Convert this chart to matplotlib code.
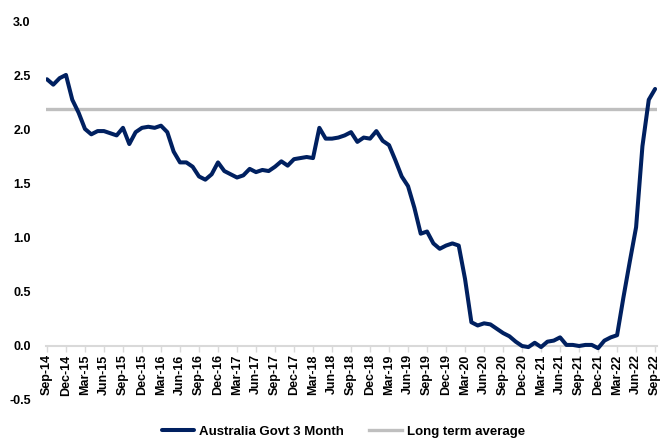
import matplotlib
matplotlib.use("Agg")
import matplotlib.pyplot as plt
import numpy as np
import pandas as pd

# monthly observations, Sep-14 .. Sep-22
months = pd.date_range("2014-09-01", "2022-09-01", freq="MS")
govt_3m = [
    2.47, 2.42, 2.48, 2.51, 2.28, 2.16, 2.01, 1.96, 1.99, 1.99,   # Sep14-Jun15
    1.97, 1.95, 2.02, 1.87, 1.98, 2.02, 2.03, 2.02, 2.04, 1.98,   # Jul15-Apr16
    1.80, 1.70, 1.70, 1.66, 1.57, 1.54, 1.59, 1.70, 1.62, 1.59,   # May16-Feb17
    1.56, 1.58, 1.64, 1.61, 1.63, 1.62, 1.66, 1.71, 1.67, 1.73,   # Mar17-Dec17
    1.74, 1.75, 1.74, 2.02, 1.92, 1.92, 1.93, 1.95, 1.98, 1.89,   # Jan18-Oct18
    1.93, 1.92, 1.99, 1.90, 1.86, 1.72, 1.57, 1.48, 1.28, 1.04,   # Nov18-Aug19
    1.06, 0.95, 0.90, 0.93, 0.95, 0.93, 0.62, 0.22, 0.19, 0.21,   # Sep19-Jun20
    0.20, 0.16, 0.12, 0.09, 0.04, 0.00, -0.01, 0.03, -0.01, 0.04, # Jul20-Apr21
    0.05, 0.08, 0.01, 0.01, 0.00, 0.01, 0.01, -0.02, 0.05, 0.08,  # May21-Feb22
    0.10, 0.45, 0.78, 1.10, 1.85, 2.28, 2.38,                     # Mar22-Sep22
]
long_term_avg = [2.19] * len(months)

tick_idx = list(range(0, len(months), 3))
tick_labels = [months[i].strftime("%b-%y") for i in tick_idx]

plt.rcParams['font.family'] = ['Liberation Sans', 'DejaVu Sans']
plt.rcParams['font.weight'] = 'bold'

fig = plt.figure(figsize=(6.65, 4.42), dpi=100)
ax = fig.add_axes([46 / 665, 42 / 442, 611 / 665, 378 / 442])

x = np.arange(len(months))
ax.plot(x, govt_3m, color='#002060', lw=2.9, solid_joinstyle='round',
        solid_capstyle='round', label='Australia Govt 3 Month', zorder=3)
ax.plot(x, long_term_avg, color='#BFBFBF', lw=2.4, label='Long term average', zorder=2)

for s in ['top', 'right', 'left']:
    ax.spines[s].set_visible(False)
ax.spines['bottom'].set_position(('data', 0))
ax.spines['bottom'].set_color('#D9D9D9')
ax.spines['bottom'].set_linewidth(1.5)

ax.set_xlim(-0.15, 96.3)
ax.set_ylim(-0.5, 3.0)
ax.set_yticks(np.arange(-0.5, 3.01, 0.5))
ax.yaxis.set_major_formatter(matplotlib.ticker.FormatStrFormatter('%.1f'))
ax.set_xticks(tick_idx)
ax.set_xticklabels(tick_labels)

ax.tick_params(axis='x', length=4, width=1, color='#D9D9D9', labelsize=9, pad=2,
               labelrotation=90)
ax.tick_params(axis='y', length=0, labelsize=9, pad=11)

leg = fig.legend(loc='lower center', bbox_to_anchor=(0.516, -0.018), ncol=2, frameon=False,
                 fontsize=9.5, handlelength=2.5, columnspacing=1.9, handletextpad=0.35)

fig.savefig("out.png", dpi=100)
